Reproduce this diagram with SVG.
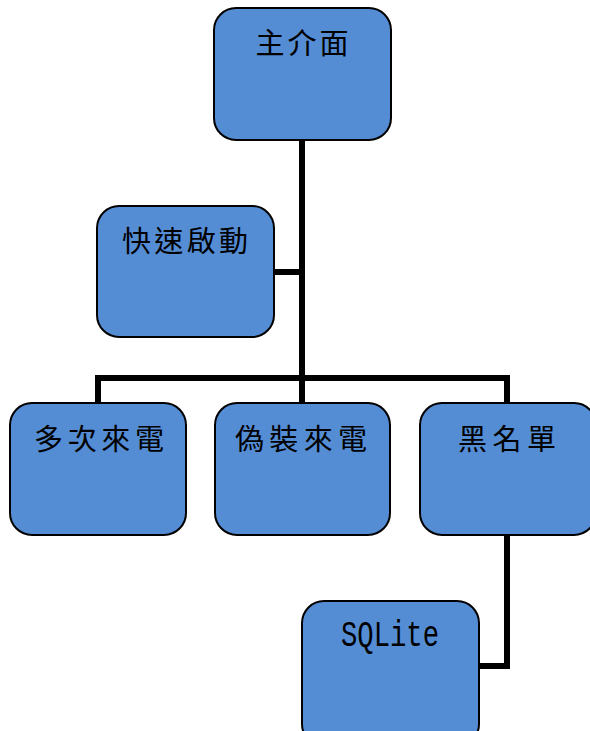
<svg xmlns="http://www.w3.org/2000/svg" width="590" height="731" viewBox="0 0 590 731">
<style>
.box{fill:#548DD4;stroke:#000;stroke-width:2}
.lbl{font-family:"Noto Sans CJK TC","Noto Sans CJK SC",sans-serif;font-size:29px;fill:#000;text-anchor:middle}
.lat{font-family:"Liberation Mono",monospace;font-size:36px;fill:#000;text-anchor:middle}
.conn{fill:none;stroke:#000;stroke-width:6;stroke-linejoin:miter}
</style>
<rect width="590" height="731" fill="#fff"/>
<g id="connectors">
<path class="conn" d="M302 140 V403"/>
<path class="conn" d="M274 272 H302"/>
<path class="conn" d="M98 403 V378 H507 V403"/>
<path class="conn" d="M507 535 V666 H479"/>
</g>
<g id="main">
<rect class="box" x="214" y="8" width="177" height="132" rx="22"/>
<text class="lbl" x="302" y="54" textLength="93" lengthAdjust="spacing">主介面</text>
</g>
<g id="quick">
<rect class="box" x="97" y="206" width="177" height="131" rx="22"/>
<text class="lbl" x="185" y="252" textLength="126" lengthAdjust="spacing">快速啟動</text>
</g>
<g id="multi">
<rect class="box" x="10" y="403" width="176" height="132" rx="22"/>
<text class="lbl" x="99" y="450" textLength="130" lengthAdjust="spacing">多次來電</text>
</g>
<g id="fake">
<rect class="box" x="215" y="403" width="175" height="132" rx="22"/>
<text class="lbl" x="301" y="450" textLength="132" lengthAdjust="spacing">偽裝來電</text>
</g>
<g id="black">
<rect class="box" x="420" y="403" width="176" height="132" rx="22"/>
<text class="lbl" x="507" y="450" textLength="98" lengthAdjust="spacing">黑名單</text>
</g>
<g id="sqlite">
<rect class="box" x="302" y="601" width="177" height="145" rx="22"/>
<text class="lat" x="390" y="646" textLength="98" lengthAdjust="spacingAndGlyphs">SQLite</text>
</g>
</svg>
